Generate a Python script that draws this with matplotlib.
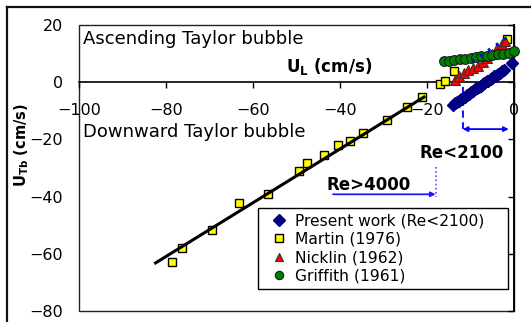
import matplotlib
matplotlib.use("Agg")
import matplotlib.pyplot as plt
from matplotlib.lines import Line2D
from matplotlib.patches import Rectangle

plt.rcParams['font.family'] = ['DejaVu Sans']

# ---------------- data ----------------
x_ticks = [-100, -80, -60, -40, -20, 0]
y_ticks = [-80, -60, -40, -20, 0, 20]

present_x = [-14.0, -13.5, -13.1, -12.6, -12.2, -11.7, -11.3, -10.8, -10.4, -9.9,
             -9.5, -9.0, -8.6, -8.1, -7.7, -7.2, -6.8, -6.3, -5.9, -5.4,
             -5.0, -4.5, -4.1, -3.6, -3.2, -2.7, -2.2, -0.5]
present_y = [-7.9, -7.4, -6.8, -6.5, -5.9, -5.4, -5.1, -4.4, -4.1, -3.5,
             -3.2, -2.5, -2.2, -1.6, -1.4, -0.7, -0.4, 0.3, 0.5, 1.2,
             1.4, 2.1, 2.3, 3.0, 3.2, 3.9, 4.3, 6.8]

martin_x = [-78.7, -76.4, -69.4, -63.2, -56.6, -49.5, -47.5, -43.6, -40.5, -37.8,
            -34.6, -29.1, -24.7, -21.1, -17.0, -15.9, -13.7, -1.7]
martin_y = [-62.7, -57.8, -51.6, -42.4, -39.0, -31.1, -28.2, -25.5, -22.0, -20.4,
            -17.6, -13.1, -8.5, -5.1, -0.6, 0.5, 3.8, 15.2]

martin_fit_x = [-82.4, -20.7]
martin_fit_y = [-63.2, -5.2]

nicklin_x = [-13.6, -12.6, -11.5, -10.6, -9.5, -8.3, -7.2, -6.1, -5.0, -3.9, -2.8, -2.1]
nicklin_y = [0.9, 2.0, 3.1, 4.2, 4.9, 5.6, 7.0, 8.5, 10.0, 11.8, 13.4, 14.3]

nicklin_line_x = [-9.7, -1.7]
nicklin_line_y = [7.3, 15.5]

griffith_x = [-16.2, -15.0, -13.7, -12.5, -11.2, -10.0, -8.7, -7.5, -6.2, -5.0,
              -3.7, -2.5, -1.2, 0.0]
griffith_y = [7.3, 7.4, 7.7, 8.0, 8.2, 8.5, 8.7, 9.0, 9.2, 9.5,
              9.7, 10.0, 10.2, 10.8]

labels = ['Present work (Re<2100)', 'Martin (1976)', 'Nicklin (1962)', 'Griffith (1961)']

# ---------------- figure ----------------
fig = plt.figure(figsize=(5.31, 3.22), dpi=100)
ax = fig.add_axes([79/531, 11/322, 435/531, 286/322])
ax.set_xlim(-100, 0)
ax.set_ylim(-80, 20)

# plot-area border
ax.add_patch(Rectangle((0, 0), 1, 1, transform=ax.transAxes, fill=False,
                       edgecolor='#222222', lw=1.0, zorder=1, clip_on=False))
for s in ['left', 'top']:
    ax.spines[s].set_visible(False)
ax.spines['bottom'].set_position(('data', 0))
ax.spines['bottom'].set_linewidth(1.2)
ax.spines['right'].set_linewidth(1.4)

ax.set_xticks(x_ticks)
ax.set_yticks(y_ticks)
ax.xaxis.set_ticks_position('bottom')
ax.tick_params(axis='x', direction='out', length=4, width=1, pad=11, labelsize=11.5)
ax.tick_params(axis='y', left=False, right=True, labelleft=True, labelright=False,
               direction='in', length=4, width=1, pad=11.5, labelsize=11.5)

mk = dict(linestyle='none', clip_on=False)
ax.plot(present_x, present_y, marker='D', markersize=6.5, color='#000080',
        markeredgecolor='#000080', zorder=3, label=labels[0], **mk)
ax.plot(martin_x, martin_y, marker='s', markersize=6.2, markerfacecolor='#FFFF00',
        markeredgecolor='black', markeredgewidth=1, zorder=4, label=labels[1], **mk)
ax.plot(martin_fit_x, martin_fit_y, color='black', lw=2.2, zorder=4.5)
ax.plot(nicklin_x, nicklin_y, marker='^', markersize=7.5, markerfacecolor='#FF0000',
        markeredgecolor='#333333', markeredgewidth=0.8, zorder=5, label=labels[2], **mk)
ax.plot(griffith_x, griffith_y, marker='o', markersize=7, markerfacecolor='#008000',
        markeredgecolor='#1a1a1a', markeredgewidth=0.8, zorder=6, label=labels[3], **mk)
ax.plot(nicklin_line_x, nicklin_line_y, color='#0000FF', lw=2, linestyle=(0, (1, 2.5)),
        zorder=7)

# annotations
ax.text(-99.0, 13.4, 'Ascending Taylor bubble', fontsize=13, ha='left', va='baseline')
ax.text(-99.0, -19.05, 'Downward Taylor bubble', fontsize=13, ha='left', va='baseline')
ax.text(-42.6, 3.7, r'U$_{\mathbf{L}}$ (cm/s)', fontsize=12, fontweight='bold',
        ha='center', va='baseline')
fig.text(22/531, 1 - 145/322, r'U$_{\mathbf{Tb}}$ (cm/s)', fontsize=10.5, fontweight='bold',
         rotation=90, ha='center', va='center')

ax.text(-21.8, -26.4, 'Re<2100', fontsize=12, fontweight='bold', ha='left', va='baseline')
ax.text(-43.2, -37.7, 'Re>4000', fontsize=12, fontweight='bold', ha='left', va='baseline')

ax.plot([-11.8, -11.8], [-1.7, -16.2], color='#0000FF', lw=1.3, linestyle=(0, (4, 2.5)),
        zorder=2)
ax.annotate('', xy=(-1.2, -16.4), xytext=(-11.8, -16.4),
            arrowprops=dict(arrowstyle='<|-|>', color='#0000FF', lw=1.3,
                            mutation_scale=7, shrinkA=0, shrinkB=0))
ax.plot([-17.9, -17.9], [-29.7, -40.1], color='#5555FF', lw=1.2, linestyle=(0, (1, 1.5)),
        zorder=2)
ax.annotate('', xy=(-18.0, -39.2), xytext=(-41.6, -39.2),
            arrowprops=dict(arrowstyle='-|>', color='#1a1aFF', lw=1.3,
                            mutation_scale=7, shrinkA=0, shrinkB=0))

leg = ax.legend(loc='upper left', bbox_to_anchor=(0.4115, 0.028, 0.5745, 0.332),
                mode='expand', borderaxespad=0, fontsize=11.2, frameon=True,
                fancybox=False, framealpha=1, edgecolor='black', handlelength=2.0,
                handletextpad=0.0, borderpad=0.35, labelspacing=0.22, numpoints=1)
leg.get_frame().set_linewidth(1.0)
leg.set_zorder(10)
for h in leg.legend_handles:
    h.set_markersize(6)

# outer frame (left and top)
fig.add_artist(Line2D([7/531, 7/531], [0, 1 - 7/322], transform=fig.transFigure,
                      color='#111111', lw=1.6))
fig.add_artist(Line2D([7/531, 1], [1 - 7/322, 1 - 7/322], transform=fig.transFigure,
                      color='#111111', lw=1.6))

fig.savefig('out.png', dpi=100)
